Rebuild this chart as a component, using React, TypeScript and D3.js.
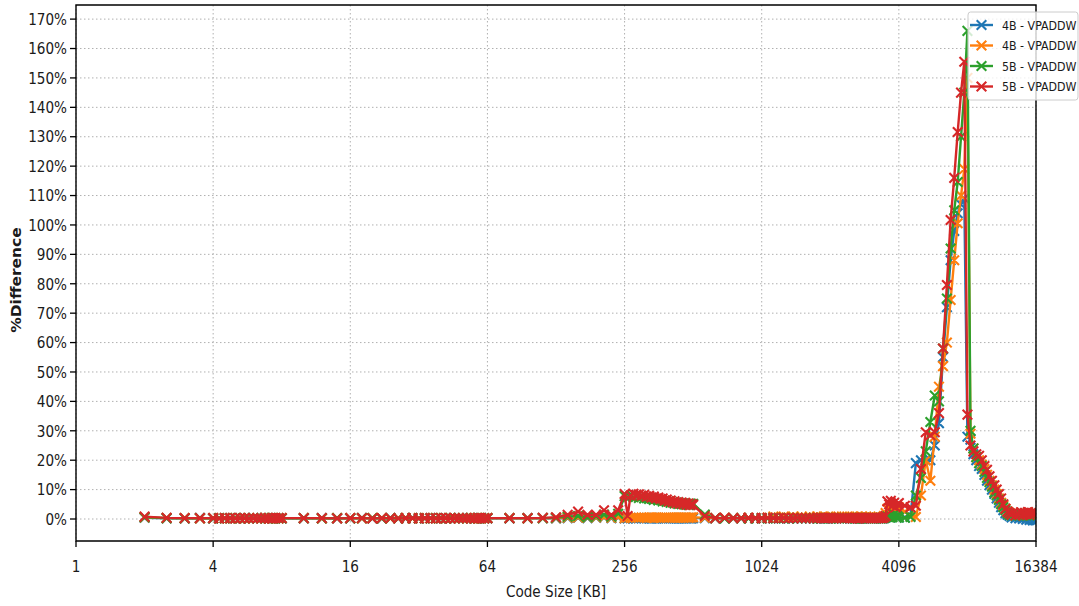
import React from "react";
import * as d3 from "d3";

// ---------- data ----------
const xTicks = [1, 4, 16, 64, 256, 1024, 4096, 16384];
const yTicks = [0, 10, 20, 30, 40, 50, 60, 70, 80, 90, 100, 110, 120, 130, 140, 150, 160, 170];
const seriesNames = ["4B - VPADDW", "4B - VPADDW", "5B - VPADDW", "5B - VPADDW"];
const seriesColors = ["#1f77b4", "#ff7f0e", "#2ca02c", "#d62728"];

const xA = [2, 2.5, 3, 3.5, 4, 4.25, 4.5, 4.75, 5, 5.25, 5.5, 5.75, 6, 6.25, 6.5, 6.75, 7, 7.25, 7.5, 7.75, 8];
const xB = [10, 12, 14, 16, 18, 20, 22, 24, 26, 28, 30, 32, 34, 36, 38, 40, 42, 44, 46, 48, 50, 52, 54, 56, 58, 60, 62, 64];
const xC = [80, 96, 112, 128, 144, 160, 176, 192, 208, 224, 240, 256];
const xD = [264, 272, 280, 288, 296, 304, 312, 320, 328, 336, 344, 352, 360, 368, 376, 384, 392, 400, 408, 416, 424, 432, 440, 448, 456, 464, 472, 480, 488, 496, 504, 512];
const xE = [576, 640, 704, 768, 832, 896, 960, 1024, 1088, 1152, 1216, 1280, 1344, 1408, 1472, 1536, 1600, 1664, 1728, 1792, 1856, 1920, 1984, 2048, 2112, 2176, 2240, 2304, 2368, 2432, 2496, 2560, 2624, 2688, 2752, 2816, 2880, 2944, 3008, 3072, 3136, 3200, 3264, 3328, 3392, 3456, 3520, 3584, 3648, 3712, 3776, 3840, 3904, 3968, 4032];
const xF = [4096, 4352, 4608, 4864, 5120, 5376, 5632, 5888, 6144, 6400, 6656, 6912, 7168, 7424, 7680, 7936, 8192];
const xG = [8448, 8704, 8960, 9216, 9472, 9728, 9984, 10240, 10496, 10752, 11008, 11264, 11520, 11776, 12032, 12288, 12544, 12800, 13056, 13312, 13568, 13824, 14080, 14336, 14592, 14848, 15104, 15360, 15616, 15872, 16128, 16384];

// Blue (4B, first)
const blueA = [0.4, 0.2, 0.2, 0.3, 0.2, 0.2, 0.3, 0.2, 0.2, 0.3, 0.2, 0.2, 0.3, 0.2, 0.2, 0.3, 0.2, 0.2, 0.3, 0.2, 0.2];
const blueB = [0.2, 0.3, 0.2, 0.2, 0.3, 0.2, 0.2, 0.3, 0.2, 0.2, 0.3, 0.2, 0.2, 0.3, 0.2, 0.2, 0.3, 0.2, 0.2, 0.3, 0.2, 0.2, 0.3, 0.2, 0.2, 0.3, 0.2, 0.2];
const blueC = [0.2, 0.2, 0.3, 0.2, 0.3, 0.4, 0.3, 0.4, 0.5, 0.3, 0.5, 0.2];
const blueD = [0.2, 0.3, 0.2, 0.2, 0.3, 0.2, 0.2, 0.3, 0.2, 0.2, 0.3, 0.2, 0.2, 0.3, 0.2, 0.2, 0.3, 0.2, 0.2, 0.3, 0.2, 0.2, 0.3, 0.2, 0.2, 0.3, 0.2, 0.2, 0.3, 0.2, 0.2, 0.3];
const blueE = [0.3, 0.2, 0.3, 0.2, 0.2, 0.3, 0.2, 0.2, 0.3, 0.2, 0.2, 0.3, 0.2, 0.2, 0.3, 0.2, 0.2, 0.3, 0.2, 0.2, 0.3, 0.2, 0.2, 0.3, 0.2, 0.2, 0.3, 0.2, 0.2, 0.3, 0.2, 0.2, 0.3, 0.2, 0.2, 0.3, 0.2, 0.2, 0.3, 0.2, 0.2, 0.3, 0.2, 0.2, 0.3, 0.2, 0.3, 0.5, 1.0, 0.8, 1.5, 1.0, 1.8, 1.0, 0.8];
const blueF = [0.5, 0.5, 1.0, 19, 20, 20, 20, 25, 32.6, 55, 72, 88, 98, 104, 107, 109, 28];
const blueG = [27, 22, 20, 18, 17, 15, 13, 11.5, 10, 8.5, 7, 5.5, 4, 3, 2, 1.5, 1, 0.5, 1.0, 0.3, 0.8, 0.2, 0.6, 0, 0.4, -0.2, 0.3, -0.3, 0, -0.5, -0.3, -0.5];

// Orange (4B, second)
const orangeA = [0.5, 0.3, 0.3, 0.2, 0.3, 0.2, 0.3, 0.2, 0.3, 0.3, 0.2, 0.3, 0.2, 0.3, 0.2, 0.3, 0.2, 0.3, 0.3, 0.2, 0.3];
const orangeB = [0.3, 0.2, 0.3, 0.3, 0.2, 0.3, 0.3, 0.2, 0.3, 0.3, 0.2, 0.3, 0.3, 0.2, 0.3, 0.3, 0.2, 0.3, 0.3, 0.2, 0.3, 0.3, 0.2, 0.3, 0.3, 0.2, 0.3, 0.3];
const orangeC = [0.3, 0.2, 0.3, 0.3, 0.4, 0.5, 0.4, 0.5, 0.6, 0.4, 0.6, 0.3];
const orangeD = [0.5, 0.4, 0.5, 0.5, 0.4, 0.5, 0.5, 0.4, 0.5, 0.5, 0.4, 0.5, 0.5, 0.4, 0.5, 0.5, 0.4, 0.5, 0.5, 0.4, 0.5, 0.5, 0.4, 0.5, 0.5, 0.4, 0.5, 0.5, 0.4, 0.5, 0.5, 0.6];
const orangeE = [0.4, 0.3, 0.4, 0.3, 0.3, 0.4, 0.3, 0.3, 0.5, 0.8, 0.5, 0.8, 0.5, 0.8, 0.5, 0.8, 0.5, 0.8, 0.5, 0.8, 0.5, 0.8, 0.5, 0.8, 0.5, 0.8, 0.5, 0.8, 0.5, 0.8, 0.5, 0.8, 0.5, 0.8, 0.5, 0.8, 0.5, 0.8, 0.5, 0.8, 0.5, 0.4, 0.3, 0.4, 0.3, 0.5, 1.0, 2.0, 3.5, 3.0, 4.5, 3.0, 4.0, 2.5, 4.0];
const orangeF = [4.0, 2.5, 1.0, 0.7, 8, 20, 13, 28, 45, 52, 60, 74.5, 88, 100.6, 110, 119, 150];
const orangeG = [29, 24, 21, 20, 18.5, 17, 15, 13, 11.5, 10, 8.5, 7, 5.5, 4.5, 3.5, 2.5, 2, 1.5, 2.0, 1.3, 1.8, 1.4, 2.1, 1.3, 1.8, 1.5, 2.2, 1.4, 1.9, 1.5, 2.0, 1.8];

// Green (5B, first)
const greenA = [0.6, 0.3, 0.2, 0.3, 0.2, 0.3, 0.2, 0.3, 0.3, 0.2, 0.3, 0.2, 0.3, 0.2, 0.3, 0.3, 0.2, 0.3, 0.2, 0.3, 0.2];
const greenB = [0.3, 0.2, 0.3, 0.2, 0.3, 0.3, 0.2, 0.3, 0.2, 0.3, 0.3, 0.2, 0.3, 0.2, 0.3, 0.3, 0.2, 0.3, 0.2, 0.3, 0.3, 0.2, 0.3, 0.2, 0.3, 0.3, 0.2, 0.3];
const greenC = [0.3, 0.3, 0.3, 0.4, 0.8, 1.0, 0.6, 0.9, 1.5, 0.8, 1.8, 7.8];
const greenD = [7.5, 7.8, 7.4, 7.6, 7.2, 7.4, 7.0, 7.2, 6.8, 7.0, 6.5, 6.8, 6.3, 6.5, 6.0, 6.2, 5.8, 6.0, 5.5, 5.8, 5.3, 5.6, 5.1, 5.4, 5.0, 5.3, 4.9, 5.2, 4.8, 5.3, 5.0, 5.2];
const greenE = [1.5, 0.3, 0.2, 0.3, 0.3, 0.2, 0.3, 0.3, 0.2, 0.3, 0.3, 0.2, 0.3, 0.3, 0.2, 0.3, 0.3, 0.2, 0.3, 0.3, 0.2, 0.3, 0.3, 0.2, 0.3, 0.3, 0.2, 0.3, 0.3, 0.2, 0.3, 0.3, 0.2, 0.3, 0.3, 0.2, 0.3, 0.3, 0.2, 0.3, 0.3, 0.2, 0.3, 0.3, 0.2, 0.3, 0.3, 0.5, 0.8, 0.5, 1.0, 0.6, 1.5, 0.8, 1.0];
const greenF = [0.5, 0.4, 0.7, 8, 14, 23, 33, 42, 40, 58, 75, 92, 105, 114.6, 130, 145, 166];
const greenG = [30, 24, 21, 19, 18, 16, 14, 12.5, 11, 9, 8, 6.5, 5, 4, 3, 2, 1.5, 1.2, 1.8, 1.0, 1.6, 1.2, 1.9, 1.1, 1.6, 1.3, 2.0, 1.2, 1.7, 1.4, 1.8, 1.6];

// Red (5B, second)
const redA = [0.8, 0.4, 0.3, 0.3, 0.3, 0.2, 0.3, 0.3, 0.2, 0.3, 0.3, 0.2, 0.3, 0.3, 0.2, 0.3, 0.3, 0.2, 0.3, 0.3, 0.3];
const redB = [0.3, 0.3, 0.2, 0.3, 0.3, 0.2, 0.3, 0.3, 0.2, 0.3, 0.3, 0.2, 0.3, 0.3, 0.2, 0.3, 0.3, 0.2, 0.3, 0.3, 0.2, 0.3, 0.3, 0.2, 0.3, 0.3, 0.2, 0.3];
const redC = [0.3, 0.3, 0.4, 0.6, 1.4, 2.5, 1.4, 1.4, 3.0, 1.4, 3.0, 8.5];
const redD = [1.0, 8.0, 8.6, 8.2, 8.4, 7.9, 8.2, 7.6, 7.9, 7.3, 7.6, 7.0, 7.3, 6.8, 7.0, 6.3, 6.6, 6.0, 6.3, 5.7, 6.0, 5.4, 5.8, 5.2, 5.6, 5.0, 5.5, 4.9, 5.3, 4.7, 5.1, 4.8];
const redE = [1.0, 0.3, 0.4, 0.3, 0.3, 0.4, 0.3, 0.3, 0.4, 0.3, 0.3, 0.4, 0.3, 0.3, 0.4, 0.3, 0.3, 0.4, 0.3, 0.3, 0.4, 0.3, 0.3, 0.4, 0.3, 0.3, 0.4, 0.3, 0.3, 0.4, 0.3, 0.3, 0.4, 0.3, 0.3, 0.4, 0.3, 0.3, 0.4, 0.3, 0.3, 0.4, 0.3, 0.3, 0.4, 0.3, 0.5, 1.0, 6.0, 5.0, 6.2, 4.5, 5.5, 4.0, 5.0];
const redF = [5.4, 4.5, 4.0, 4.5, 17, 29.5, 28.5, 29.5, 36, 58, 79.6, 101.7, 116, 131.6, 145, 155.5, 35.5];
const redG = [25, 23, 22, 21.5, 20, 18, 16.7, 14.5, 13, 11.5, 10, 8.5, 7, 5, 3.5, 2.5, 2, 1.5, 2.2, 1.2, 2, 1.5, 2.3, 1.4, 2, 1.6, 2.4, 1.5, 2.1, 1.7, 2.2, 2.0];

const xs = [...xA, ...xB, ...xC, ...xD, ...xE, ...xF, ...xG];
const seriesValues = [
  [...blueA, ...blueB, ...blueC, ...blueD, ...blueE, ...blueF, ...blueG],
  [...orangeA, ...orangeB, ...orangeC, ...orangeD, ...orangeE, ...orangeF, ...orangeG],
  [...greenA, ...greenB, ...greenC, ...greenD, ...greenE, ...greenF, ...greenG],
  [...redA, ...redB, ...redC, ...redD, ...redE, ...redF, ...redG],
];

// ---------- layout ----------
const W = 1079;
const H = 606;
const S = 0.85; // horizontal squash of the reference
const VBW = W / S;
const L = 76 / S;
const R = 1036 / S;
const T = 5;
const B = 541;
const FONT = "DejaVu Sans, Verdana, sans-serif";
const TXT = "#1a1a1a";

export default function App() {
  const x = d3.scaleLog().base(2).domain([1, 16384]).range([L, R]);
  const y = d3.scaleLinear().domain([-7.48, 174.8]).range([B, T]);
  const line = d3
    .line<[number, number]>()
    .x((d) => x(d[0]))
    .y((d) => y(d[1]));
  const hx = 4.8 / S;
  const hy = 4.8;
  const mk = (cx: number, cy: number) =>
    `M${cx - hx},${cy - hy}L${cx + hx},${cy + hy}M${cx - hx},${cy + hy}L${cx + hx},${cy - hy}`;

  const legX = 968 / S;
  const legW = (1078 - 968) / S;
  const legRows = [25, 45.5, 66, 86.5];

  return (
    <div style={{ position: "absolute", left: 0, top: 0, width: W, height: H, background: "#fff" }}>
      <svg width={W} height={H} viewBox={`0 0 ${VBW} ${H}`} preserveAspectRatio="none" style={{ display: "block" }}>
        <defs>
          <clipPath id="plotclip">
            <rect x={L} y={T} width={R - L} height={B - T} />
          </clipPath>
        </defs>
        <rect x={0} y={0} width={VBW} height={H} fill="#fff" />
        {/* grid */}
        <g stroke="#b0b0b0" strokeWidth={1} strokeDasharray="1.5,2.5">
          {xTicks.map((t) => (
            <line key={"gx" + t} x1={x(t)} x2={x(t)} y1={T} y2={B} vectorEffect="non-scaling-stroke" />
          ))}
          {yTicks.map((t) => (
            <line key={"gy" + t} x1={L} x2={R} y1={y(t)} y2={y(t)} vectorEffect="non-scaling-stroke" />
          ))}
        </g>
        {/* data */}
        <g clipPath="url(#plotclip)">
          {seriesValues.map((vals, si) => {
            const pts: [number, number][] = xs.map((xv, i) => [xv, vals[i]]);
            const markerPath = pts.map((p) => mk(x(p[0]), y(p[1]))).join("");
            return (
              <g key={"s" + si}>
                <path d={line(pts) || ""} fill="none" stroke={seriesColors[si]} strokeWidth={2.4} strokeLinejoin="round" vectorEffect="non-scaling-stroke" />
                <path d={markerPath} fill="none" stroke={seriesColors[si]} strokeWidth={2.1} vectorEffect="non-scaling-stroke" />
              </g>
            );
          })}
        </g>
        {/* spines */}
        <rect x={L} y={T} width={R - L} height={B - T} fill="none" stroke="#000" strokeWidth={1.4} vectorEffect="non-scaling-stroke" />
        {/* y ticks */}
        {yTicks.map((t) => (
          <g key={"yt" + t}>
            <line x1={L - 6 / S} x2={L} y1={y(t)} y2={y(t)} stroke="#000" strokeWidth={1.3} vectorEffect="non-scaling-stroke" />
            <text x={L - 9 / S} y={y(t)} dy="0.36em" textAnchor="end" fontFamily={FONT} fontSize={16} fill={TXT}>
              {t + "%"}
            </text>
          </g>
        ))}
        {/* x ticks */}
        {xTicks.map((t) => (
          <g key={"xt" + t}>
            <line x1={x(t)} x2={x(t)} y1={B} y2={B + 6} stroke="#000" strokeWidth={1.3} vectorEffect="non-scaling-stroke" />
            <text x={x(t)} y={566} dy="0.36em" textAnchor="middle" fontFamily={FONT} fontSize={16} fill={TXT}>
              {String(t)}
            </text>
          </g>
        ))}
        {/* axis labels */}
        <text x={(L + R) / 2} y={591} dy="0.36em" textAnchor="middle" fontFamily={FONT} fontSize={16} fill={TXT}>
          Code Size [KB]
        </text>
        <text
          transform={`translate(${16 / S},${280}) rotate(-90)`}
          dy="0.36em"
          textAnchor="middle"
          fontFamily={FONT}
          fontSize={15.5}
          fontWeight="bold"
          fill={TXT}
        >
          %Difference
        </text>
        {/* legend */}
        <rect x={legX} y={12} width={legW} height={88} rx={3} ry={3} fill="#fff" fillOpacity={0.8} stroke="#cccccc" strokeWidth={1} vectorEffect="non-scaling-stroke" />
        {seriesNames.map((n, i) => (
          <g key={"lg" + i}>
            <line x1={970 / S} x2={993 / S} y1={legRows[i]} y2={legRows[i]} stroke={seriesColors[i]} strokeWidth={2.4} vectorEffect="non-scaling-stroke" />
            <path d={mk(981.5 / S, legRows[i])} fill="none" stroke={seriesColors[i]} strokeWidth={2.1} vectorEffect="non-scaling-stroke" />
            <text x={1002 / S} y={legRows[i]} dy="0.36em" fontFamily={FONT} fontSize={13} fill={TXT}>
              {n}
            </text>
          </g>
        ))}
      </svg>
    </div>
  );
}
